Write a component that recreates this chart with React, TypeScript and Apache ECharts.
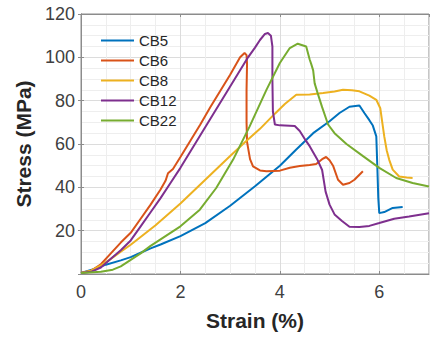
import React, { useEffect, useRef } from "react";
import * as echarts from "echarts";

const seriesNames = ["CB5", "CB6", "CB8", "CB12", "CB22"];
const seriesColors = ["#0072BD", "#D95319", "#EDB120", "#7E2F8E", "#77AC30"];

const xTicks = [0, 2, 4, 6];
const yTicks = [20, 40, 60, 80, 100, 120];

const cb5: [number, number][] = [
  [0, 0.5], [0.3, 2.5], [0.5, 4.3], [0.8, 6.3], [1.0, 7.8], [1.2, 9.8], [1.4, 11.8], [1.6, 13.6],
  [2.0, 17.5], [2.5, 23.5], [3.0, 31.5], [3.5, 40.5], [4.0, 50], [4.33, 57.5], [4.67, 65],
  [5.0, 70.5], [5.2, 74.3], [5.4, 77.2], [5.6, 77.8], [5.7, 74.3], [5.8, 71], [5.87, 68.5],
  [5.94, 63.5], [5.96, 50], [5.98, 35], [6.0, 28.1], [6.1, 28.6], [6.27, 30.5], [6.47, 30.9],
];

const cb6: [number, number][] = [
  [0, 0.5], [0.2, 1.5], [0.4, 4.5], [0.6, 9.5], [0.8, 14.5], [1.0, 19], [1.2, 25.5], [1.4, 32],
  [1.6, 39], [1.7, 43], [1.75, 46.5], [1.85, 48.5], [2.0, 54], [2.2, 61.5], [2.4, 69], [2.6, 77],
  [2.8, 84.5], [3.0, 92], [3.1, 96], [3.2, 100], [3.29, 102], [3.33, 101], [3.34, 97], [3.33, 85],
  [3.33, 70], [3.34, 61], [3.4, 53], [3.46, 49.7], [3.6, 47.8], [3.73, 47.4], [4.0, 47.7],
  [4.2, 49], [4.4, 49.8], [4.6, 50.3], [4.73, 50.8], [4.85, 53], [4.93, 54], [5.0, 52.5],
  [5.07, 50], [5.17, 43.5], [5.27, 41.2], [5.4, 42], [5.5, 43.5], [5.67, 47.4],
];

const cb8: [number, number][] = [
  [0, 0.5], [0.2, 1.5], [0.4, 4], [0.6, 7], [0.8, 10.3], [1.0, 13.5], [1.5, 22.5], [2.0, 32.5],
  [2.5, 43.5], [3.0, 54.5], [3.33, 61.5], [3.6, 67], [3.9, 74], [4.1, 78.5], [4.33, 82.7],
  [4.6, 82.8], [4.87, 83.5], [5.1, 84.2], [5.27, 85], [5.45, 84.8], [5.6, 84.3], [5.8, 82.3],
  [5.94, 80.4], [6.02, 76.5], [6.06, 70], [6.1, 63.5], [6.15, 57], [6.2, 52.7], [6.27, 48.2],
  [6.4, 45], [6.55, 44.5], [6.67, 44.3],
];

const cb12: [number, number][] = [
  [0, 0.5], [0.2, 1], [0.4, 3], [0.6, 7], [0.8, 11], [1.0, 15.5], [1.2, 22], [1.4, 28.5],
  [1.6, 35], [1.8, 42], [2.0, 49], [2.2, 56.5], [2.4, 64], [2.6, 71.5], [2.8, 79], [3.0, 86.5],
  [3.2, 94], [3.36, 100], [3.5, 104.5], [3.6, 108], [3.7, 110.8], [3.76, 111.2], [3.82, 110],
  [3.85, 105], [3.85, 90], [3.86, 75], [3.9, 69], [4.0, 68.6], [4.3, 68.3], [4.4, 66],
  [4.53, 61.3], [4.6, 59], [4.75, 53], [4.85, 48], [4.92, 38], [5.0, 32], [5.1, 27.5],
  [5.25, 24.5], [5.4, 21.8], [5.6, 21.7], [5.8, 22.2], [6.0, 23.5], [6.3, 25.5], [6.6, 26.5],
  [7.0, 28],
];

const cb22: [number, number][] = [
  [0, 0.5], [0.4, 1], [0.64, 2], [0.8, 3.5], [1.0, 6.5], [1.2, 9.5], [1.4, 13], [1.6, 16],
  [2.0, 22], [2.39, 29.7], [2.72, 39.7], [3.06, 52.8], [3.39, 68], [3.73, 85], [4.0, 97.4],
  [4.2, 104.3], [4.36, 106.3], [4.53, 105], [4.6, 99], [4.63, 97], [4.67, 94], [4.7, 88],
  [4.76, 83.5], [4.85, 77], [4.97, 69], [5.1, 65], [5.34, 60], [5.68, 54.3], [6.0, 49],
  [6.34, 44.3], [6.67, 42], [7.0, 40.4],
];

const allData = [cb5, cb6, cb8, cb12, cb22];

const FONT = "'Liberation Sans', Arial, Helvetica, sans-serif";

export default function App() {
  const ref = useRef<HTMLDivElement>(null);
  useEffect(() => {
    if (!ref.current) return;
    const chart = echarts.init(ref.current, undefined, { renderer: "svg" });
    const boxColor = "#8c8c8c";
    const gridBase = { left: 81, right: 6, top: 14, height: 260 };
    chart.setOption({
      animation: false,
      backgroundColor: "#ffffff",
      grid: { ...gridBase, show: true, borderColor: boxColor, borderWidth: 1, backgroundColor: "transparent" },
      legend: {
        data: seriesNames,
        orient: "vertical",
        left: 101,
        top: 33,
        padding: 0,
        icon: "rect",
        itemWidth: 33,
        itemHeight: 2,
        itemGap: 5,
        textStyle: { fontFamily: FONT, fontSize: 15, lineHeight: 15, color: "#262626" },
      },
      xAxis: [
        {
          type: "value", min: 0, max: 7, interval: 0.5, gridIndex: 0,
          axisLine: { show: false }, axisTick: { show: false }, axisLabel: { show: false },
          splitLine: { show: true, lineStyle: { color: "#eeeeee", width: 1 } },
        },
        {
          type: "value", min: 0, max: 7, interval: 2, position: "bottom",
          axisLine: { show: true, lineStyle: { color: boxColor } },
          axisTick: { show: true, inside: true, length: 3, lineStyle: { color: boxColor } },
          axisLabel: {
            show: true, showMaxLabel: false, margin: 9, fontFamily: FONT, fontSize: 18, color: "#404040",
            formatter: (v: number) => (xTicks.includes(v) ? String(v) : ""),
          },
          splitLine: { show: true, lineStyle: { color: "#dcdcdc", width: 1 } },
          name: "Strain (%)", nameLocation: "middle", nameGap: 36,
          nameTextStyle: { fontFamily: FONT, fontSize: 21, fontWeight: "bold", color: "#262626" },
        },
        {
          type: "value", min: 0, max: 7, interval: 2, position: "top",
          axisLine: { show: true, lineStyle: { color: boxColor } },
          axisTick: { show: true, inside: true, length: 3, lineStyle: { color: boxColor } },
          axisLabel: { show: false }, splitLine: { show: false },
        },
      ],
      yAxis: [
        {
          type: "value", min: 0, max: 120, interval: 20, position: "left",
          minorTick: { show: false, splitNumber: 4 },
          minorSplitLine: { show: true, lineStyle: { color: "#eeeeee", width: 1 } },
          axisLine: { show: true, lineStyle: { color: boxColor } },
          axisTick: { show: true, inside: true, length: 3, lineStyle: { color: boxColor } },
          axisLabel: {
            show: true, margin: 6, fontFamily: FONT, fontSize: 18, color: "#404040",
            formatter: (v: number) => (yTicks.includes(v) ? String(v) : ""),
          },
          splitLine: { show: true, lineStyle: { color: "#dcdcdc", width: 1 } },
          name: "Stress (MPa)", nameLocation: "middle", nameGap: 44, nameRotate: 90,
          nameTextStyle: { fontFamily: FONT, fontSize: 21, fontWeight: "bold", color: "#262626" },
        },
        {
          type: "value", min: 0, max: 120, interval: 20, position: "right",
          axisLine: { show: true, lineStyle: { color: boxColor } },
          axisTick: { show: true, inside: true, length: 3, lineStyle: { color: boxColor } },
          axisLabel: { show: false }, splitLine: { show: false },
        },
      ],
      series: seriesNames.map((name, i) => ({
        name,
        type: "line",
        xAxisIndex: 1,
        yAxisIndex: 0,
        data: allData[i],
        symbol: "none",
        smooth: false,
        color: seriesColors[i],
        lineStyle: { width: 2, color: seriesColors[i] },
        clip: true,
      })),
    });
    return () => chart.dispose();
  }, []);
  return <div ref={ref} style={{ width: 435, height: 339, position: "absolute", left: 0, top: 0 }} />;
}
